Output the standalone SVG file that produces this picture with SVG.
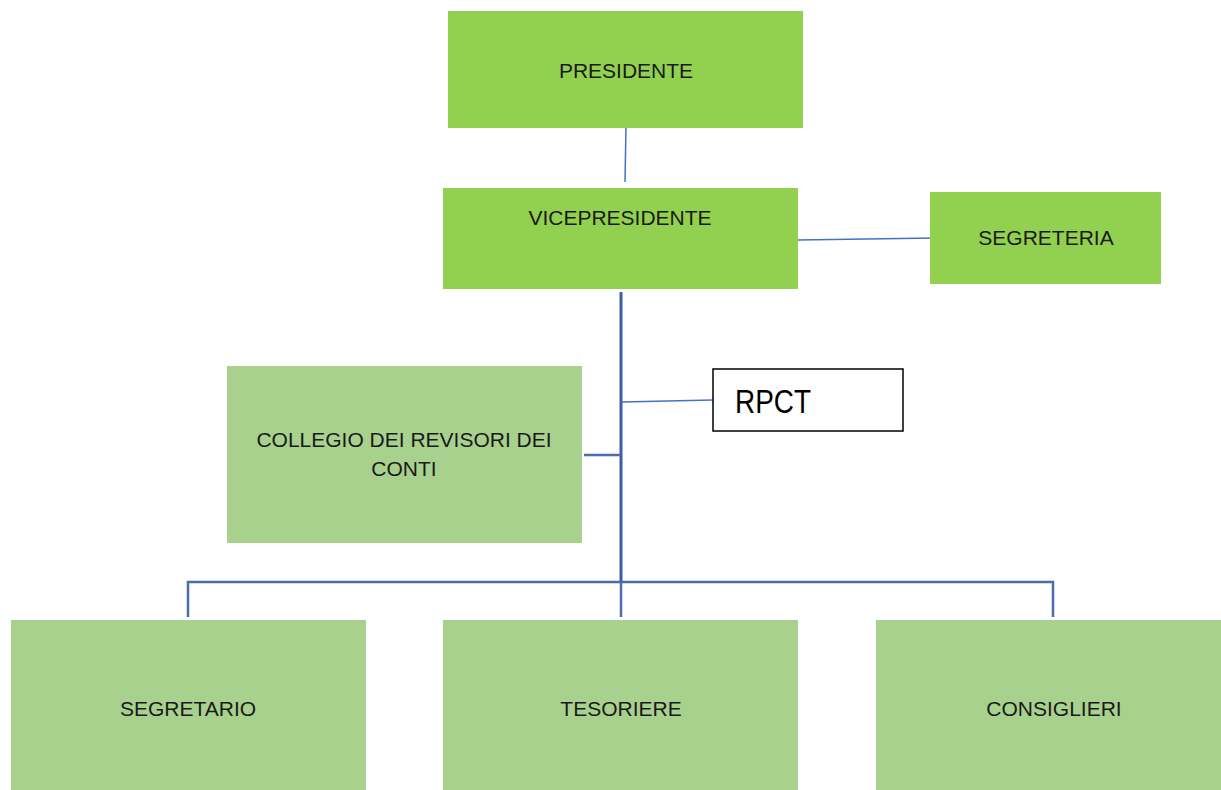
<svg xmlns="http://www.w3.org/2000/svg" width="1221" height="790" viewBox="0 0 1221 790">
<style>
.dark{fill:#92D050;}
.light{fill:#A9D18E;}
.lbl{font-family:"Liberation Sans",Arial,sans-serif;font-size:21px;fill:#1a1a1a;text-anchor:middle;}
.thin{stroke:#4472C4;stroke-width:1.5;fill:none;}
.bus{stroke:#4A6DAE;stroke-width:2.5;fill:none;}
.trunk{stroke:#3B5EA6;stroke-width:3;fill:none;}
</style>
<rect width="1221" height="790" fill="#ffffff"/>
<g id="connectors">
<line class="thin" x1="626" y1="125" x2="625" y2="182"/>
<line class="thin" x1="798" y1="240" x2="934" y2="238"/>
<line class="trunk" x1="621" y1="292" x2="621" y2="582"/>
<line class="thin" x1="622" y1="402" x2="713" y2="400"/>
<line class="bus" x1="584" y1="455" x2="621" y2="455"/>
<polyline class="bus" points="188,617 188,582 1053,582 1053,617"/>
<line class="bus" x1="621" y1="582" x2="621" y2="617" stroke="#5A7DBE"/>
</g>
<g id="presidente">
<rect class="dark" x="448" y="11" width="355" height="117"/>
<text class="lbl" x="626" y="78">PRESIDENTE</text>
</g>
<g id="vicepresidente">
<rect class="dark" x="443" y="188" width="355" height="101"/>
<text class="lbl" x="620" y="225">VICEPRESIDENTE</text>
</g>
<g id="segreteria">
<rect class="dark" x="930" y="192" width="231" height="92"/>
<text class="lbl" x="1046" y="245">SEGRETERIA</text>
</g>
<g id="rpct">
<rect x="713" y="369" width="190" height="62" fill="#ffffff" stroke="#000000" stroke-width="1.5"/>
<text x="735" y="413" font-family="'Liberation Sans',Arial,sans-serif" font-size="33" fill="#000000" textLength="76" lengthAdjust="spacingAndGlyphs">RPCT</text>
</g>
<g id="collegio">
<rect class="light" x="227" y="366" width="355" height="177"/>
<text class="lbl" x="404" y="447">COLLEGIO DEI REVISORI DEI</text>
<text class="lbl" x="404" y="476">CONTI</text>
</g>
<g id="segretario">
<rect class="light" x="11" y="620" width="355" height="170"/>
<text class="lbl" x="188" y="716">SEGRETARIO</text>
</g>
<g id="tesoriere">
<rect class="light" x="443" y="620" width="355" height="170"/>
<text class="lbl" x="621" y="716">TESORIERE</text>
</g>
<g id="consiglieri">
<rect class="light" x="876" y="620" width="345" height="170"/>
<text class="lbl" x="1054" y="716">CONSIGLIERI</text>
</g>
</svg>
